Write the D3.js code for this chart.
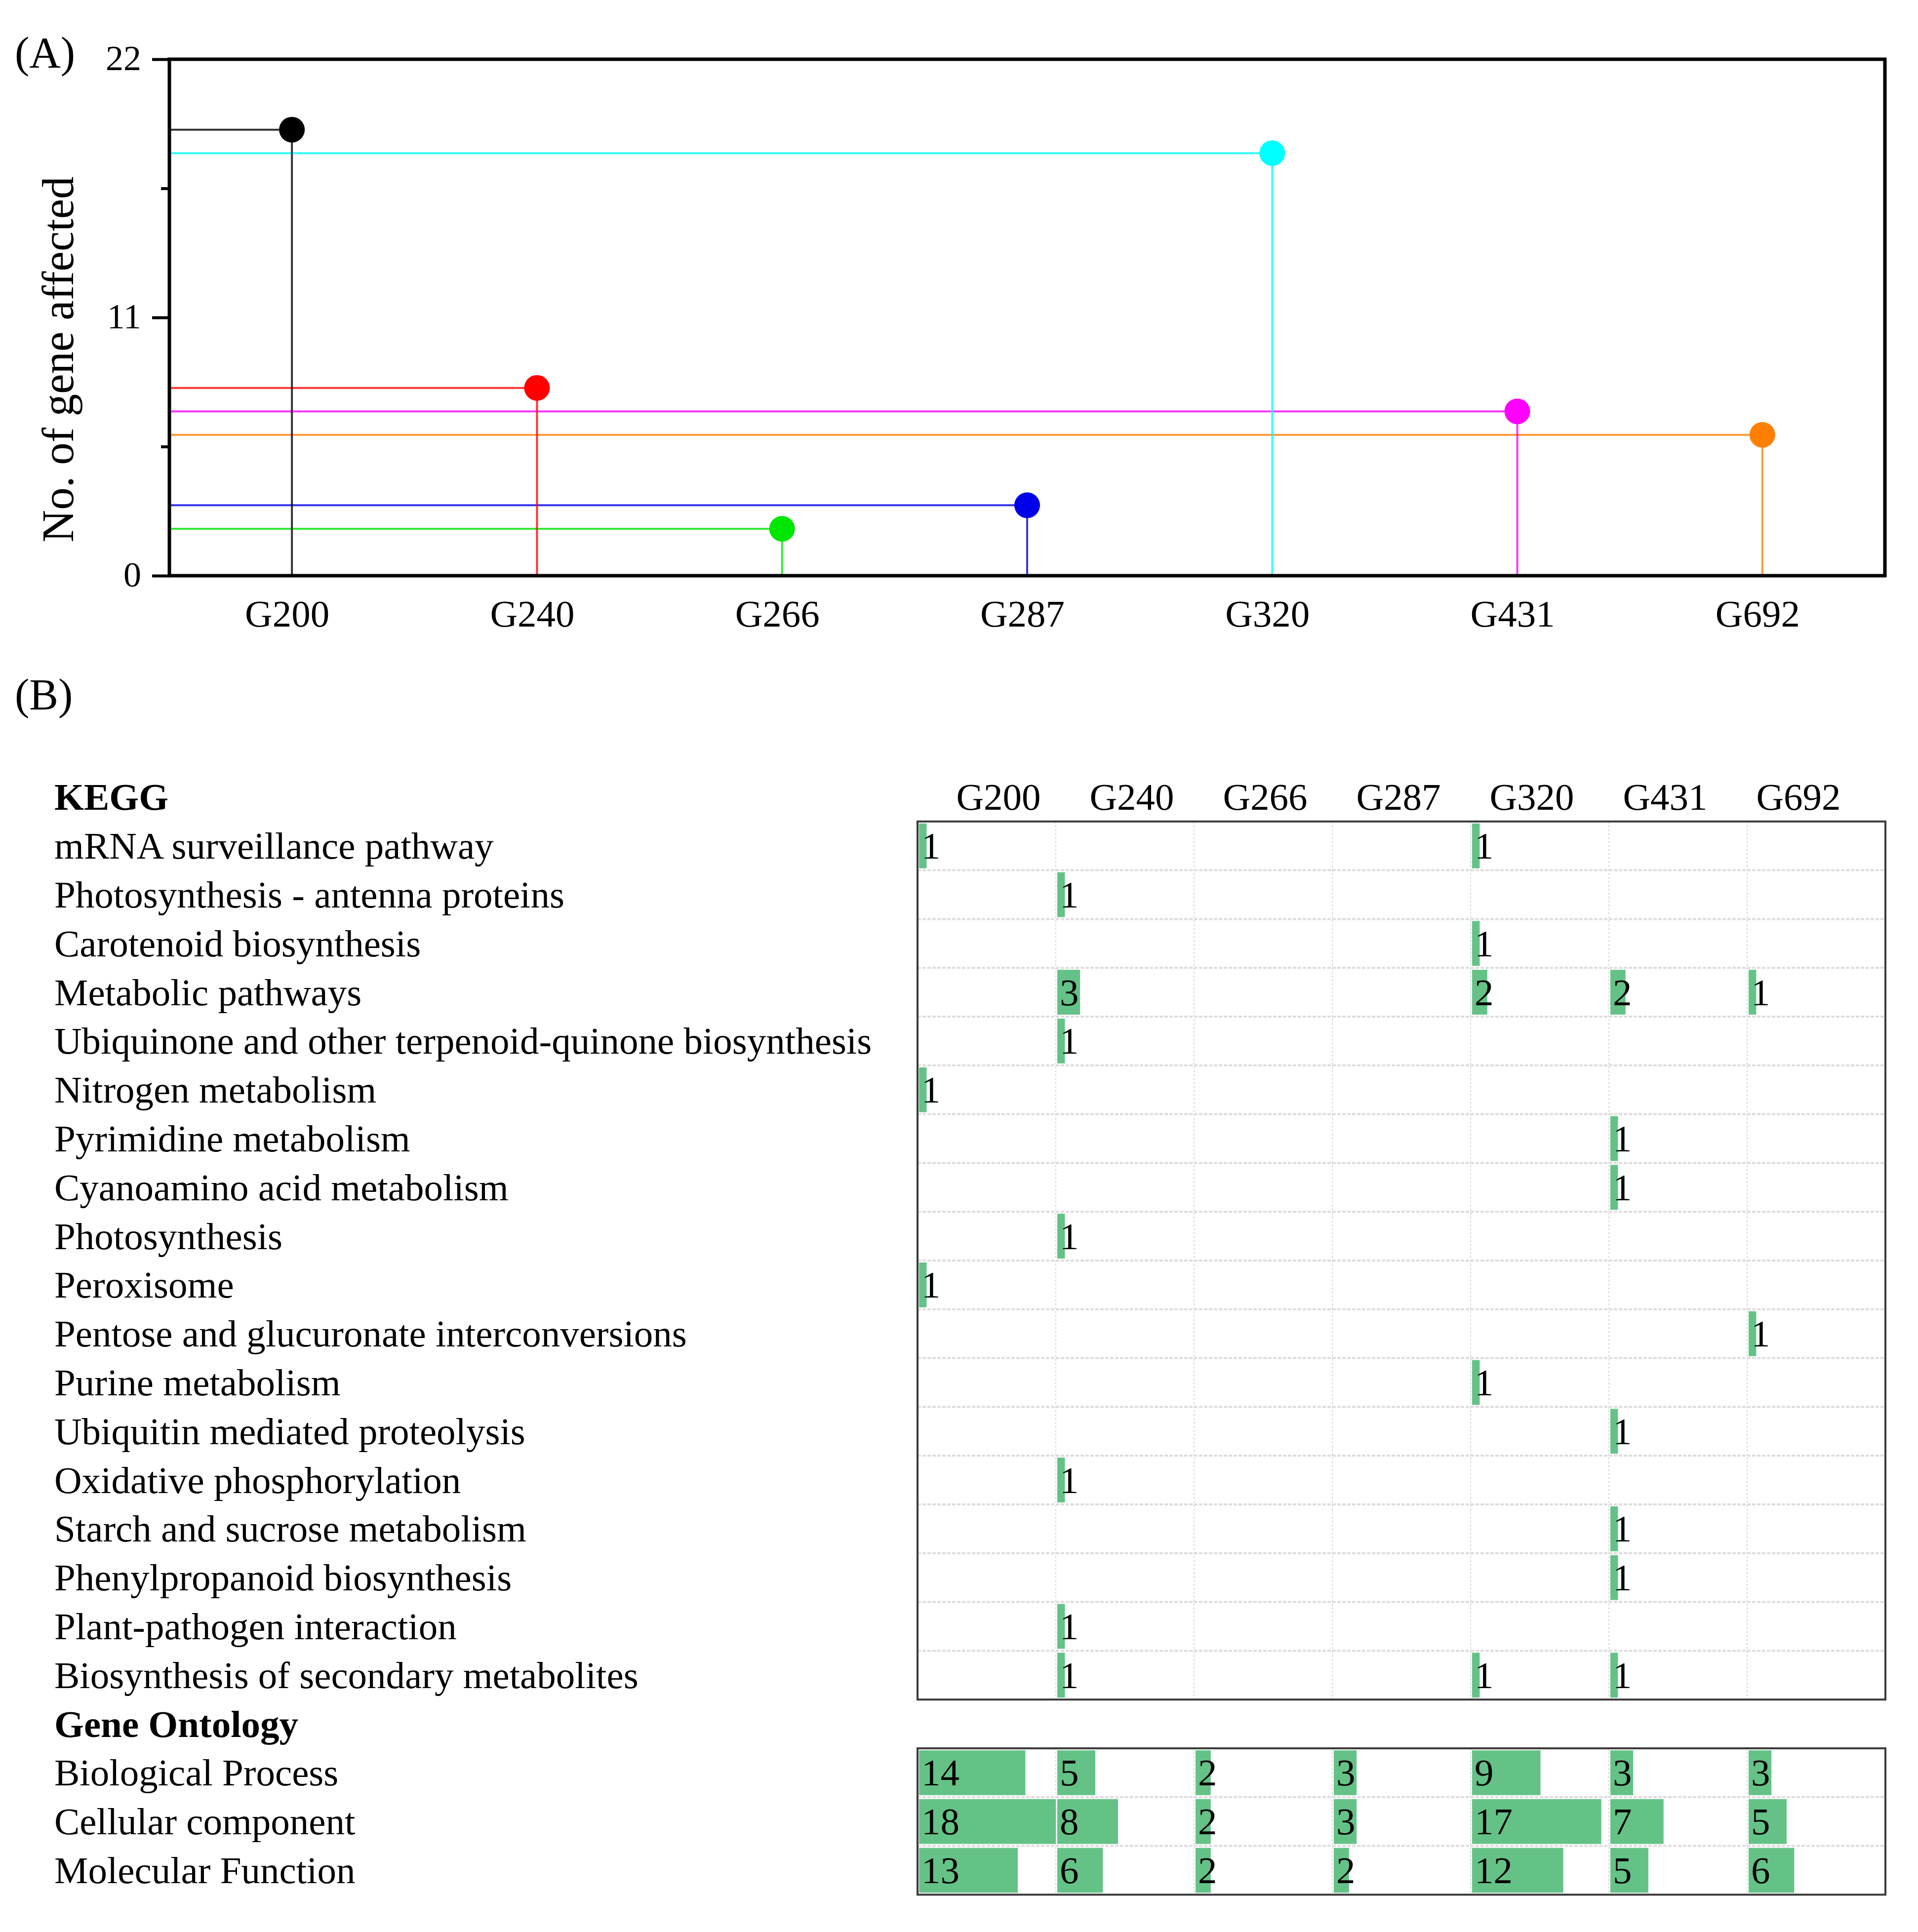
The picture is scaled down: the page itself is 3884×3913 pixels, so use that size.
<!DOCTYPE html>
<html>
<head>
<meta charset="utf-8">
<script src="https://cdn.jsdelivr.net/npm/d3@7"></script>
<style>
  body { margin: 0; background: #fff; }
  svg text { font-family: "Liberation Serif", "Times New Roman", serif; fill: #000; }
</style>
</head>
<body>
<div id="chart"></div>
<script>
// groups shared by both panels
const groups = ["G200", "G240", "G266", "G287", "G320", "G431", "G692"];

// panel A: number of genes affected per group
const affected = [19, 8, 2, 3, 18, 7, 6];
const yTicks = [0, 11, 22];
const yMinorTicks = [5.5, 16.5];

// panel B: KEGG pathways, counts per group
const keggTerms = [
    "mRNA surveillance pathway",
    "Photosynthesis - antenna proteins",
    "Carotenoid biosynthesis",
    "Metabolic pathways",
    "Ubiquinone and other terpenoid-quinone biosynthesis",
    "Nitrogen metabolism",
    "Pyrimidine metabolism",
    "Cyanoamino acid metabolism",
    "Photosynthesis",
    "Peroxisome",
    "Pentose and glucuronate interconversions",
    "Purine metabolism",
    "Ubiquitin mediated proteolysis",
    "Oxidative phosphorylation",
    "Starch and sucrose metabolism",
    "Phenylpropanoid biosynthesis",
    "Plant-pathogen interaction",
    "Biosynthesis of secondary metabolites"
];
const keggCounts = [
    [1, 0, 0, 0, 1, 0, 0],
    [0, 1, 0, 0, 0, 0, 0],
    [0, 0, 0, 0, 1, 0, 0],
    [0, 3, 0, 0, 2, 2, 1],
    [0, 1, 0, 0, 0, 0, 0],
    [1, 0, 0, 0, 0, 0, 0],
    [0, 0, 0, 0, 0, 1, 0],
    [0, 0, 0, 0, 0, 1, 0],
    [0, 1, 0, 0, 0, 0, 0],
    [1, 0, 0, 0, 0, 0, 0],
    [0, 0, 0, 0, 0, 0, 1],
    [0, 0, 0, 0, 1, 0, 0],
    [0, 0, 0, 0, 0, 1, 0],
    [0, 1, 0, 0, 0, 0, 0],
    [0, 0, 0, 0, 0, 1, 0],
    [0, 0, 0, 0, 0, 1, 0],
    [0, 1, 0, 0, 0, 0, 0],
    [0, 1, 0, 0, 1, 1, 0]
];

// panel B: gene ontology, counts per group
const goTerms = ["Biological Process", "Cellular component", "Molecular Function"];
const goCounts = [
    [14, 5, 2, 3, 9, 3, 3],
    [18, 8, 2, 3, 17, 7, 5],
    [13, 6, 2, 2, 12, 5, 6]
];
const countMax = 18;

const W = 3884, H = 3913;
const FONT = 77;

const color = d3.scaleOrdinal()
    .domain(groups)
    .range(["#000000", "#ff0000", "#00e600", "#0000e8", "#00ffff", "#ff00ff", "#ff8000"]);

const svg = d3.select("#chart").append("svg")
    .attr("width", W)
    .attr("height", H);
svg.append("rect").attr("width", W).attr("height", H).attr("fill", "#fff");

// ---------------- panel A ----------------
const a = { left: 343, right: 3817, top: 120, bottom: 1166 };

const x = d3.scalePoint()
    .domain(groups)
    .range([a.left, a.right])
    .padding(0.5);

const y = d3.scaleLinear()
    .domain([0, 22])
    .range([a.bottom, a.top]);

const panelA = svg.append("g");

const lollis = groups.map((g, i) => ({ g: g, v: affected[i] }));

// horizontal guide from the axis to each point
panelA.selectAll(".hline")
    .data(lollis)
    .join("line")
    .attr("class", "hline")
    .attr("x1", a.left)
    .attr("x2", d => x(d.g))
    .attr("y1", d => y(d.v))
    .attr("y2", d => y(d.v))
    .attr("stroke", d => color(d.g))
    .attr("stroke-opacity", 0.8)
    .attr("stroke-width", 4);

// stem down to zero
panelA.selectAll(".vline")
    .data(lollis)
    .join("line")
    .attr("class", "vline")
    .attr("x1", d => x(d.g))
    .attr("x2", d => x(d.g))
    .attr("y1", d => y(d.v))
    .attr("y2", y(0))
    .attr("stroke", d => color(d.g))
    .attr("stroke-opacity", 0.8)
    .attr("stroke-width", 4);

panelA.selectAll(".dot")
    .data(lollis)
    .join("circle")
    .attr("class", "dot")
    .attr("cx", d => x(d.g))
    .attr("cy", d => y(d.v))
    .attr("r", 26)
    .attr("fill", d => color(d.g));

// axes
const yAxis = d3.axisLeft(y)
    .tickValues(yTicks)
    .tickSize(35)
    .tickPadding(22);
const yAxisG = panelA.append("g")
    .attr("transform", `translate(${a.left},0)`)
    .call(yAxis);
yAxisG.select(".domain").remove();
yAxisG.selectAll(".tick line").attr("stroke", "#000").attr("stroke-width", 6);
yAxisG.selectAll(".tick text")
    .style("font-size", "72px")
    .attr("dy", "0.3em");

const yMinor = panelA.append("g")
    .attr("transform", `translate(${a.left},0)`)
    .call(d3.axisLeft(y).tickValues(yMinorTicks).tickSize(17).tickFormat(""));
yMinor.select(".domain").remove();
yMinor.selectAll(".tick line").attr("stroke", "#000").attr("stroke-width", 6);

const xAxisG = panelA.append("g")
    .attr("transform", `translate(0,${a.bottom})`)
    .call(d3.axisBottom(x).tickSize(0));
xAxisG.select(".domain").remove();
xAxisG.selectAll(".tick text")
    .style("font-size", FONT + "px")
    .attr("y", 103)
    .attr("dx", -10)
    .attr("dy", 0);

// frame
panelA.append("rect")
    .attr("x", a.left)
    .attr("y", a.top)
    .attr("width", a.right - a.left)
    .attr("height", a.bottom - a.top)
    .attr("fill", "none")
    .attr("stroke", "#000")
    .attr("stroke-width", 7);

panelA.append("text")
    .attr("transform", `translate(148,${(a.top + a.bottom) / 2 + 85}) rotate(-90)`)
    .attr("text-anchor", "middle")
    .style("font-size", "91px")
    .text("No. of gene affected");

svg.append("text")
    .attr("x", 30)
    .attr("y", 136)
    .style("font-size", "88px")
    .text("(A)");

// ---------------- panel B ----------------
svg.append("text")
    .attr("x", 30)
    .attr("y", 1436)
    .style("font-size", "88px")
    .text("(B)");

// one band per line: KEGG header, KEGG terms, GO header, GO terms
const rows = ["KEGG"].concat(keggTerms, ["Gene Ontology"], goTerms);
const row = d3.scaleBand()
    .domain(d3.range(rows.length))
    .range([1565, 1565 + rows.length * 98.8]);

const col = d3.scaleBand()
    .domain(groups)
    .range([1858, 3818]);

// column headers sit on a slightly tighter spacing than the cells
const head = d3.scaleBand()
    .domain(groups)
    .range([1887, 3777]);

const barW = d3.scaleLinear()
    .domain([0, countMax])
    .range([0, col.bandwidth() - 3]);

const panelB = svg.append("g");

panelB.selectAll(".rowlabel")
    .data(rows)
    .join("text")
    .attr("class", "rowlabel")
    .attr("x", 110)
    .attr("y", (d, i) => row(i) + row.bandwidth() / 2 + 26)
    .style("font-size", FONT + "px")
    .style("font-weight", d => (d === "KEGG" || d === "Gene Ontology") ? "bold" : "normal")
    .text(d => d);

panelB.selectAll(".colhead")
    .data(groups)
    .join("text")
    .attr("class", "colhead")
    .attr("x", d => head(d) + head.bandwidth() / 2)
    .attr("y", row(0) + row.bandwidth() / 2 + 26)
    .attr("text-anchor", "middle")
    .style("font-size", FONT + "px")
    .text(d => d);

function drawTable(counts, firstRow) {
    const n = counts.length;
    const top = row(firstRow);
    const bottom = row(firstRow + n - 1) + row.bandwidth();
    const g = panelB.append("g");

    // dotted grid
    g.selectAll(".hgrid")
        .data(d3.range(1, n))
        .join("line")
        .attr("x1", col.range()[0])
        .attr("x2", col.range()[1])
        .attr("y1", i => row(firstRow + i))
        .attr("y2", i => row(firstRow + i))
        .attr("stroke", "#dcdcdc")
        .attr("stroke-width", 4)
        .attr("stroke-dasharray", "7,3");
    g.selectAll(".vgrid")
        .data(groups.slice(1))
        .join("line")
        .attr("x1", d => col(d))
        .attr("x2", d => col(d))
        .attr("y1", top)
        .attr("y2", bottom)
        .attr("stroke", "#d6d6d6")
        .attr("stroke-width", 2)
        .attr("stroke-dasharray", "4,4");

    const cells = [];
    counts.forEach((r, i) => r.forEach((v, j) => {
        if (v > 0) cells.push({ row: firstRow + i, g: groups[j], v: v });
    }));

    g.selectAll(".bar")
        .data(cells)
        .join("rect")
        .attr("x", d => col(d.g) + 3)
        .attr("y", d => row(d.row) + 4)
        .attr("width", d => barW(d.v))
        .attr("height", row.bandwidth() - 8)
        .attr("fill", "#64c287");

    g.selectAll(".val")
        .data(cells)
        .join("text")
        .attr("x", d => col(d.g) + 8)
        .attr("y", d => row(d.row) + row.bandwidth() / 2 + 26)
        .style("font-size", FONT + "px")
        .text(d => d.v);

    g.append("rect")
        .attr("x", col.range()[0])
        .attr("y", top)
        .attr("width", col.range()[1] - col.range()[0])
        .attr("height", bottom - top)
        .attr("fill", "none")
        .attr("stroke", "#3a3a3a")
        .attr("stroke-width", 4);
}

drawTable(keggCounts, 1);
drawTable(goCounts, keggTerms.length + 2);
</script>
</body>
</html>
